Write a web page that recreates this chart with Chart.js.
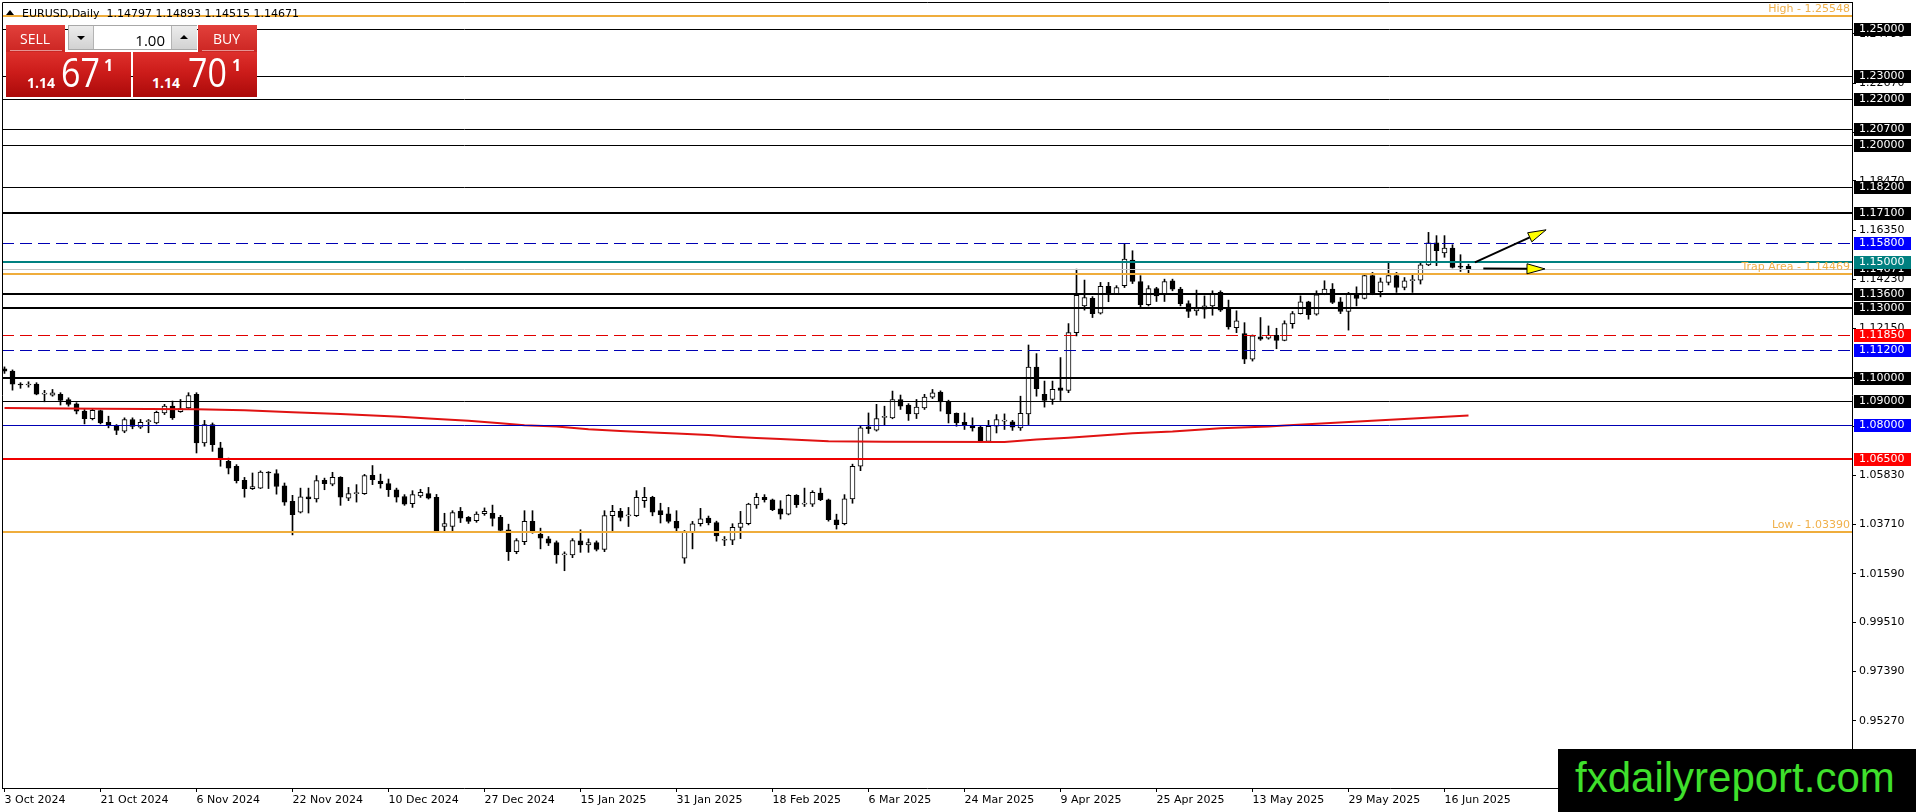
<!DOCTYPE html>
<html>
<head>
<meta charset="utf-8">
<title>EURUSD Daily</title>
<script src="https://cdn.jsdelivr.net/npm/chart.js@4.4.1/dist/chart.umd.min.js"></script>
<style>
html,body{margin:0;padding:0;background:#fff;overflow:hidden}
#wrap{position:relative;width:1916px;height:812px}
#cv{position:absolute;left:0;top:0}
.abs{position:absolute;line-height:1;white-space:pre}
#ttl{left:22px;top:7px;font:11px "DejaVu Sans",sans-serif;color:#000}
#tri{left:6px;top:10px;width:0;height:0;border-left:4px solid transparent;border-right:4px solid transparent;border-bottom:5px solid #000}
.red{background:linear-gradient(#e2403b,#cc2623)}
.big{background:linear-gradient(#de302c 0%,#cc1c1a 45%,#ab0a0a 100%)}
.tx{color:#fff;font-family:"Open Sans",sans-serif}
.ul{height:1px;background:rgba(255,255,255,.5)}
.gr{background:linear-gradient(#ececec,#d2d2d2)}
.dn{width:0;height:0;border-left:4px solid transparent;border-right:4px solid transparent;border-top:4px solid #000}
.up{width:0;height:0;border-left:4px solid transparent;border-right:4px solid transparent;border-bottom:4px solid #000}
#wm{left:1558px;top:749px;width:358px;height:63px;background:#000}
#wmt{left:1575px;top:754px;font:42px "Liberation Sans",Arial,sans-serif;color:#3fe02c}
</style>
</head>
<body>
<div id="wrap">
<canvas id="cv" width="1916" height="812"></canvas>

<div class="abs" id="tri"></div>
<div class="abs" id="ttl">EURUSD,Daily  1.14797 1.14893 1.14515 1.14671</div>

<div class="abs red" style="left:6px;top:25px;width:59px;height:27px"></div>
<div class="abs ul" style="left:10px;top:50px;width:52px"></div>
<div class="abs tx" style="left:20px;top:32px;font-size:14px">SELL</div>
<div class="abs red" style="left:198px;top:25px;width:59px;height:27px"></div>
<div class="abs ul" style="left:202px;top:50px;width:52px"></div>
<div class="abs tx" style="left:213px;top:32px;font-size:14px">BUY</div>

<div class="abs" style="left:68px;top:25px;width:129px;height:25px;box-sizing:border-box;border:1px solid #a8a8a8;background:#fff"></div>
<div class="abs gr" style="left:69px;top:26px;width:24px;height:23px;border-right:1px solid #b4b4b4"></div>
<div class="abs dn" style="left:77px;top:36px"></div>
<div class="abs gr" style="left:171px;top:26px;width:25px;height:23px;border-left:1px solid #b4b4b4"></div>
<div class="abs up" style="left:180px;top:35px"></div>
<div class="abs" style="left:93px;top:30px;width:72px;text-align:right;font:15px 'Open Sans',sans-serif;color:#000">1.00</div>

<div class="abs big" style="left:6px;top:52px;width:125px;height:45px"></div>
<div class="abs tx" style="left:27px;top:76px;font-size:14px;font-weight:bold">1.14</div>
<div class="abs tx" style="left:61px;top:52px;font-size:40px;transform:scaleX(.85);transform-origin:left">67</div>
<div class="abs tx" style="left:104px;top:57px;font-size:16px;font-weight:bold">1</div>
<div class="abs big" style="left:133px;top:52px;width:124px;height:45px"></div>
<div class="abs tx" style="left:152px;top:76px;font-size:14px;font-weight:bold">1.14</div>
<div class="abs tx" style="left:188px;top:52px;font-size:40px;transform:scaleX(.85);transform-origin:left">70</div>
<div class="abs tx" style="left:232px;top:57px;font-size:16px;font-weight:bold">1</div>

<div class="abs" id="wm"></div>
<div class="abs" id="wmt">fxdailyreport.com</div>
</div>

<script>
// ══════════════════════════════════════════
// DATA
// ══════════════════════════════════════════
var opens=[1.1040,1.1030,1.0972,1.0970,1.0974,1.0931,1.0926,1.0930,1.0907,1.0889,
1.0858,1.0825,1.0860,1.0810,1.0797,1.0772,1.0822,1.0789,1.0813,1.0807,
1.0850,1.0879,1.0855,1.0872,1.0930,1.0721,1.0800,1.0700,1.0642,1.0621,
1.0560,1.0525,1.0527,1.0595,1.0589,1.0537,1.0470,1.0424,1.0490,1.0481,
1.0560,1.0544,1.0573,1.0484,1.0503,1.0503,1.0582,1.0557,1.0546,1.0520,
1.0491,1.0460,1.0494,1.0503,1.0487,1.0362,1.0362,1.0427,1.0401,1.0387,
1.0417,1.0419,1.0401,1.0348,1.0254,1.0297,1.0384,1.0329,1.0309,1.0293,
1.0240,1.0240,1.0300,1.0283,1.0293,1.0264,1.0409,1.0427,1.0408,1.0409,
1.0473,1.0487,1.0430,1.0416,1.0384,1.0226,1.0338,1.0374,1.0398,1.0379,
1.0303,1.0303,1.0358,1.0374,1.0455,1.0487,1.0477,1.0438,1.0415,1.0496,
1.0458,1.0458,1.0506,1.0477,1.0391,1.0374,1.0481,1.0621,1.0790,1.0776,
1.0831,1.0829,1.0908,1.0884,1.0846,1.0872,1.0918,1.0940,1.0898,1.0848,
1.0810,1.0797,1.0789,1.0728,1.0793,1.0815,1.0812,1.0786,1.0846,1.1047,
1.0930,1.0908,1.0958,1.0947,1.1195,1.1310,1.1343,1.1279,1.1394,1.1361,
1.1397,1.1507,1.1415,1.1315,1.1385,1.1361,1.1418,1.1382,1.1320,1.1289,
1.1296,1.1310,1.1368,1.1296,1.1217,1.1191,1.1081,1.1177,1.1171,1.1184,
1.1162,1.1234,1.1277,1.1328,1.1275,1.1361,1.1382,1.1328,1.1286,1.1363,
1.1342,1.1440,1.1371,1.1411,1.1440,1.1389,1.1419,1.1421,1.1486,1.1581,
1.1538,1.1559,1.1479,1.14797];
var highs=[1.1048,1.1035,1.0980,1.0984,1.0980,1.0947,1.0951,1.0937,1.0915,1.0894,
1.0865,1.0866,1.0862,1.0836,1.0800,1.0829,1.0829,1.0822,1.0822,1.0858,
1.0887,1.0901,1.0908,1.0937,1.0937,1.0818,1.0807,1.0724,1.0656,1.0628,
1.0573,1.0592,1.0601,1.0598,1.0606,1.0549,1.0496,1.0527,1.0527,1.0581,
1.0570,1.0595,1.0576,1.0530,1.0542,1.0586,1.0624,1.0587,1.0566,1.0527,
1.0499,1.0516,1.0522,1.0530,1.0500,1.0419,1.0430,1.0444,1.0405,1.0425,
1.0442,1.0454,1.0410,1.0372,1.0310,1.0430,1.0430,1.0355,1.0319,1.0300,
1.0253,1.0310,1.0348,1.0309,1.0300,1.0430,1.0453,1.0440,1.0444,1.0516,
1.0530,1.0492,1.0462,1.0444,1.0430,1.0345,1.0384,1.0440,1.0407,1.0385,
1.0319,1.0374,1.0427,1.0462,1.0505,1.0499,1.0480,1.0473,1.0499,1.0499,
1.0527,1.0516,1.0527,1.0480,1.0415,1.0499,1.0630,1.0793,1.0850,1.0887,
1.0879,1.0944,1.0927,1.0890,1.0908,1.0930,1.0951,1.0945,1.0905,1.0850,
1.0850,1.0829,1.0795,1.0818,1.0843,1.0846,1.0818,1.0922,1.1142,1.1105,
1.0987,1.0987,1.1088,1.1234,1.1468,1.1421,1.1350,1.1411,1.1411,1.1397,
1.1576,1.1547,1.1440,1.1397,1.1390,1.1425,1.1425,1.1390,1.1332,1.1378,
1.1353,1.1375,1.1375,1.1335,1.1289,1.1238,1.1185,1.1260,1.1224,1.1214,
1.1246,1.1286,1.1353,1.1330,1.1375,1.1418,1.1406,1.1346,1.1368,1.1392,
1.1450,1.1454,1.1430,1.1493,1.1454,1.1432,1.1450,1.1497,1.1626,1.1612,
1.1612,1.1573,1.1530,1.14893];
var lows=[1.1020,1.0948,1.0956,1.0961,1.0928,1.0898,1.0922,1.0884,1.0879,1.0846,
1.0803,1.0820,1.0803,1.0786,1.0757,1.0765,1.0782,1.0783,1.0765,1.0803,
1.0843,1.0822,1.0853,1.0869,1.0678,1.0707,1.0685,1.0621,1.0588,1.0549,
1.0488,1.0521,1.0525,1.0525,1.0501,1.0453,1.0326,1.0420,1.0420,1.0467,
1.0520,1.0537,1.0453,1.0473,1.0467,1.0500,1.0542,1.0527,1.0491,1.0467,
1.0453,1.0444,1.0487,1.0480,1.0338,1.0338,1.0343,1.0379,1.0375,1.0380,
1.0410,1.0364,1.0340,1.0216,1.0245,1.0284,1.0333,1.0266,1.0280,1.0204,
1.0172,1.0228,1.0251,1.0251,1.0257,1.0254,1.0336,1.0386,1.0362,1.0405,
1.0444,1.0408,1.0377,1.0377,1.0341,1.0204,1.0266,1.0364,1.0369,1.0299,
1.0280,1.0284,1.0310,1.0369,1.0440,1.0467,1.0430,1.0394,1.0412,1.0444,
1.0448,1.0448,1.0473,1.0385,1.0351,1.0369,1.0462,1.0602,1.0762,1.0772,
1.0797,1.0825,1.0865,1.0818,1.0826,1.0865,1.0912,1.0858,1.0807,1.0793,
1.0779,1.0772,1.0725,1.0725,1.0764,1.0779,1.0775,1.0775,1.0800,1.0922,
1.0875,1.0887,1.0904,1.0937,1.1181,1.1292,1.1260,1.1275,1.1328,1.1361,
1.1389,1.1406,1.1303,1.1310,1.1329,1.1329,1.1375,1.1310,1.1260,1.1270,
1.1257,1.1270,1.1286,1.1210,1.1195,1.1062,1.1073,1.1162,1.1167,1.1126,
1.1160,1.1214,1.1275,1.1253,1.1270,1.1358,1.1320,1.1277,1.1206,1.1310,
1.1340,1.1358,1.1349,1.1400,1.1368,1.1379,1.1368,1.1404,1.1483,1.1483,
1.1519,1.1473,1.1458,1.14515];
var closes=[1.1030,1.0974,1.0970,1.0974,1.0931,1.0933,1.0937,1.0904,1.0887,1.0858,
1.0825,1.0861,1.0807,1.0797,1.0775,1.0822,1.0792,1.0810,1.0815,1.0853,
1.0879,1.0829,1.0869,1.0925,1.0721,1.0800,1.0714,1.0650,1.0613,1.0559,
1.0525,1.0534,1.0596,1.0592,1.0534,1.0467,1.0413,1.0490,1.0481,1.0559,
1.0546,1.0573,1.0488,1.0503,1.0504,1.0581,1.0563,1.0546,1.0520,1.0488,
1.0458,1.0499,1.0509,1.0484,1.0341,1.0375,1.0422,1.0398,1.0384,1.0415,
1.0427,1.0397,1.0345,1.0254,1.0302,1.0384,1.0336,1.0312,1.0290,1.0240,
1.0242,1.0302,1.0283,1.0293,1.0264,1.0409,1.0427,1.0401,1.0410,1.0487,
1.0487,1.0424,1.0413,1.0384,1.0355,1.0338,1.0374,1.0395,1.0379,1.0322,
1.0304,1.0358,1.0377,1.0458,1.0487,1.0477,1.0434,1.0415,1.0496,1.0456,
1.0459,1.0509,1.0477,1.0391,1.0370,1.0481,1.0621,1.0786,1.0782,1.0826,
1.0835,1.0908,1.0879,1.0846,1.0875,1.0918,1.0937,1.0897,1.0846,1.0807,
1.0797,1.0786,1.0728,1.0793,1.0822,1.0815,1.0789,1.0848,1.1047,1.0954,
1.0904,1.0951,1.0947,1.1195,1.1356,1.1346,1.1277,1.1394,1.1361,1.1389,
1.1511,1.1415,1.1315,1.1385,1.1353,1.1415,1.1382,1.1320,1.1286,1.1299,
1.1310,1.1363,1.1292,1.1220,1.1246,1.1081,1.1181,1.1167,1.1184,1.1162,
1.1234,1.1277,1.1328,1.1272,1.1358,1.1382,1.1325,1.1286,1.1363,1.1342,
1.1440,1.1361,1.1414,1.1440,1.1389,1.1418,1.1423,1.1486,1.1581,1.1547,
1.1559,1.1475,1.1477,1.14671];

// trading calendar: weekdays from 3 Oct 2024, these days have no bar
var firstDay="2024-10-03";
var holidays=["2024-12-25","2025-01-01"];
var tickLabels=["3 Oct 2024","21 Oct 2024","6 Nov 2024","22 Nov 2024","10 Dec 2024","27 Dec 2024",
"15 Jan 2025","31 Jan 2025","18 Feb 2025","6 Mar 2025","24 Mar 2025","9 Apr 2025",
"25 Apr 2025","13 May 2025","29 May 2025","16 Jun 2025"];
var yTicks=[1.2479,1.2267,1.2055,1.1847,1.1635,1.1423,1.1215,1.1003,1.0791,1.0583,1.0371,1.0159,0.9951,0.9739,0.9527];

// moving average, read at these bars
var maIdx=[0,12,24,30,36,42,49.5,53,58,62,65,69,73,77,81,84,88,91,94,97,103,110,125,129,133,137,141,146,152,158,160,183];
var maVal=[1.0871,1.0868,1.0866,1.0862,1.0853,1.0846,1.0834,1.0826,1.0816,1.0806,1.0797,1.0792,1.0780,1.0772,1.0766,1.0762,
1.0755,1.0748,1.0742,1.0738,1.0728,1.0726,1.0725,1.0736,1.0743,1.0753,1.0763,1.0770,1.0784,1.0792,1.0796,1.0839];

// horizontal levels
var levelVals=[1.25548,1.25,1.23,1.22,1.207,1.20,1.182,1.171,1.158,1.15,1.14671,1.14469,1.136,1.13,1.1185,1.112,1.10,1.09,1.08,1.065,1.0339];
var levelKinds=["gold","thin","thin","thin","thin","thin","thin","thick","blueDash","teal","bid","gold","thick","thick","redDash","blueDash","thick","thin","blue","red","gold"];
var boxVals=[1.25,1.23,1.22,1.207,1.20,1.182,1.171,1.158,1.14671,1.15,1.136,1.13,1.1185,1.112,1.10,1.09,1.08,1.065];
var boxKinds=["k","k","k","k","k","k","k","b","k","t","k","k","r","b","k","k","b","r"];
var noteText=["High - 1.25548","Trap Area - 1.14469","Low - 1.03390"];
var noteVals=[1.25548,1.14469,1.0339];
var arrowFrom=[[183.8,1.1497],[184.85,1.1471]];
var arrowTo=[[192.7,1.1637],[192.56,1.1469]];

// ══════════════════════════════════════════
// STYLES
// ══════════════════════════════════════════
var LS={
  gold:{c:"#efad3c",w:2},
  thin:{c:"#000",w:1},
  thick:{c:"#000",w:2},
  blueDash:{c:"#0000b4",w:1,d:[12,6]},
  teal:{c:"#008080",w:2},
  bid:{c:"#c4c4c4",w:1},
  redDash:{c:"#e00000",w:1,d:[12,6]},
  blue:{c:"#0000b4",w:1},
  red:{c:"#f00000",w:2}
};
var BX={k:"#000",b:"#0000ff",t:"#008080",r:"#ff0000"};
var FONT="DejaVu Sans";

function buildDates(n){
  var MN=["Jan","Feb","Mar","Apr","May","Jun","Jul","Aug","Sep","Oct","Nov","Dec"];
  var out=[],p=firstDay.split("-"),d=new Date(Date.UTC(+p[0],+p[1]-1,+p[2]));
  while(out.length<n){
    var wd=d.getUTCDay(),iso=d.toISOString().slice(0,10);
    if(wd>0&&wd<6&&holidays.indexOf(iso)<0)out.push(d.getUTCDate()+" "+MN[d.getUTCMonth()]+" "+d.getUTCFullYear());
    d.setUTCDate(d.getUTCDate()+1);
  }
  return out;
}

function arrow(ctx,x1,y1,x2,y2){
  var a=Math.atan2(y2-y1,x2-x1),L=18,W=5;
  var bx=x2-L*Math.cos(a),by=y2-L*Math.sin(a);
  ctx.setLineDash([]);
  ctx.strokeStyle="#000";ctx.lineWidth=2;
  ctx.beginPath();ctx.moveTo(x1,y1);ctx.lineTo(bx,by);ctx.stroke();
  ctx.beginPath();ctx.moveTo(x2,y2);
  ctx.lineTo(bx+W*Math.sin(a),by-W*Math.cos(a));
  ctx.lineTo(bx-W*Math.sin(a),by+W*Math.cos(a));
  ctx.closePath();
  ctx.fillStyle="#ffff00";ctx.fill();
  ctx.lineWidth=1;ctx.stroke();
}

var overlay={
  id:"overlay",
  afterDatasetsDraw:function(ch){
    var ctx=ch.ctx,a=ch.chartArea,ys=ch.scales.y,xs=ch.scales.x;
    ctx.save();
    levelVals.forEach(function(v,i){
      var st=LS[levelKinds[i]],y=Math.round(ys.getPixelForValue(v))+(st.w%2?0.5:0);
      ctx.beginPath();
      ctx.strokeStyle=st.c;ctx.lineWidth=st.w;ctx.setLineDash(st.d||[]);
      ctx.moveTo(a.left,y);ctx.lineTo(a.right,y);ctx.stroke();
    });
    ctx.font="11px '"+FONT+"'";
    ctx.fillStyle="#f0b04a";ctx.textAlign="right";ctx.textBaseline="alphabetic";
    noteText.forEach(function(t,i){
      ctx.fillText(t,a.right-2,Math.round(ys.getPixelForValue(noteVals[i]))-4);
    });
    arrowFrom.forEach(function(f,i){
      var t=arrowTo[i];
      arrow(ctx,xs.getPixelForValue(f[0]),ys.getPixelForValue(f[1]),xs.getPixelForValue(t[0]),ys.getPixelForValue(t[1]));
    });
    ctx.restore();
  },
  afterDraw:function(ch){
    var ctx=ch.ctx,a=ch.chartArea,ys=ch.scales.y;
    ctx.save();
    ctx.strokeStyle="#000";ctx.lineWidth=1;ctx.setLineDash([]);
    ctx.beginPath();
    ctx.moveTo(a.left+0.5,a.bottom);ctx.lineTo(a.left+0.5,a.top+0.5);ctx.lineTo(a.right,a.top+0.5);
    ctx.stroke();
    ctx.font="11px '"+FONT+"'";ctx.textAlign="left";ctx.textBaseline="middle";
    boxVals.forEach(function(v,i){
      var y=Math.round(ys.getPixelForValue(v));
      ctx.fillStyle=BX[boxKinds[i]];
      ctx.fillRect(a.right+2,y-6,57,13);
      ctx.fillStyle="#fff";
      ctx.fillText(v.toFixed(5),a.right+7,y+0.5);
    });
    ctx.restore();
  }
};

// ══════════════════════════════════════════
// CHART
// ══════════════════════════════════════════
var dates=buildDates(closes.length);
var bodies=closes.map(function(c,i){return{x:i,y:[Math.min(opens[i],c),Math.max(opens[i],c)]};});
var wicks=highs.map(function(h,i){return{x:i,y:[lows[i],h]};});
var fills=closes.map(function(c,i){return c>=opens[i]?"#fff":"#000";});
var ma=maIdx.map(function(k,i){return{x:k,y:maVal[i]};});

Chart.defaults.font.family=FONT;
Chart.defaults.font.size=11;
Chart.defaults.color="#000";

new Chart(document.getElementById("cv"),{
  type:"bar",
  data:{datasets:[
    {type:"line",label:"MA",data:ma,borderColor:"#e01212",borderWidth:2,pointRadius:0,tension:0,order:0},
    {label:"Body",data:bodies,backgroundColor:fills,borderColor:"#000",borderWidth:1,borderSkipped:false,
      barThickness:5,minBarLength:1,grouped:false,order:1},
    {label:"Wick",data:wicks,backgroundColor:"#000",borderWidth:0,barThickness:1,grouped:false,order:2}
  ]},
  options:{
    responsive:false,
    animation:false,
    devicePixelRatio:1,
    events:[],
    layout:{padding:{top:2,left:2,right:0,bottom:0}},
    plugins:{legend:{display:false},tooltip:{enabled:false}},
    scales:{
      x:{
        type:"linear",min:-0.3125,max:230.9375,offset:false,bounds:"data",
        afterBuildTicks:function(s){s.ticks=tickLabels.map(function(t){return{value:dates.indexOf(t)};});},
        afterFit:function(s){s.height=24;s.paddingLeft=0;s.paddingRight=0;},
        ticks:{autoSkip:false,maxRotation:0,minRotation:0,align:"start",padding:2,color:"#000",
          font:{family:FONT,size:11},callback:function(v){return dates[v]||"";}},
        grid:{drawOnChartArea:false,drawTicks:true,tickLength:4,color:"#000",offset:false},
        border:{display:true,color:"#000",width:1}
      },
      y:{
        type:"linear",position:"right",min:0.92383,max:1.26160,bounds:"data",
        afterBuildTicks:function(s){s.ticks=yTicks.map(function(v){return{value:v};});},
        afterFit:function(s){s.width=64;s.paddingTop=0;s.paddingBottom=0;},
        ticks:{autoSkip:false,padding:3,color:"#000",font:{family:FONT,size:11},
          callback:function(v){return v.toFixed(5);}},
        grid:{drawOnChartArea:false,drawTicks:true,tickLength:4,color:"#000"},
        border:{display:true,color:"#000",width:1}
      }
    }
  },
  plugins:[overlay]
});
</script>
</body>
</html>
